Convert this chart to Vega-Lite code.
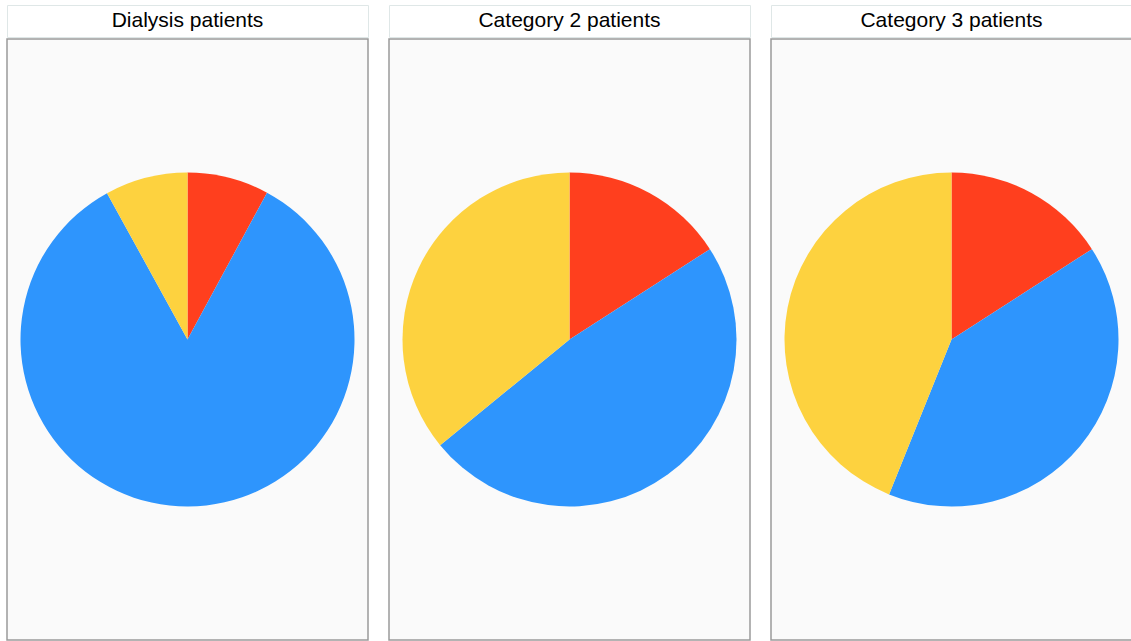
{
  "$schema": "https://vega.github.io/schema/vega-lite/v6.json",
  "padding": {"left": 6, "top": 4, "right": 0, "bottom": 0},
  "background": "white",
  "datasets": {
    "shares": [
      {"panel": "Dialysis patients", "group": "A", "ord": 1, "value": 7.9},
      {"panel": "Dialysis patients", "group": "B", "ord": 2, "value": 84.1},
      {"panel": "Dialysis patients", "group": "C", "ord": 3, "value": 8.0},
      {"panel": "Category 2 patients", "group": "A", "ord": 1, "value": 15.9},
      {"panel": "Category 2 patients", "group": "B", "ord": 2, "value": 48.2},
      {"panel": "Category 2 patients", "group": "C", "ord": 3, "value": 35.9},
      {"panel": "Category 3 patients", "group": "A", "ord": 1, "value": 15.9},
      {"panel": "Category 3 patients", "group": "B", "ord": 2, "value": 40.2},
      {"panel": "Category 3 patients", "group": "C", "ord": 3, "value": 43.9}
    ],
    "titles": [
      {"panel": "Dialysis patients"},
      {"panel": "Category 2 patients"},
      {"panel": "Category 3 patients"}
    ]
  },
  "config": {
    "concat": {"spacing": 19},
    "font": "Liberation Sans"
  },
  "hconcat": [
    {
      "vconcat": [
        {
          "width": 361, "height": 32,
          "data": {"name": "titles"},
          "transform": [{"filter": "datum.panel === 'Dialysis patients'"}],
          "view": {"stroke": "#dfe7e7", "fill": "white"},
          "mark": {"type": "text", "fontSize": 21, "color": "black", "font": "Liberation Sans", "baseline": "middle"},
          "encoding": {
            "x": {"field": "panel", "type": "nominal", "axis": null},
            "text": {"field": "panel"}
          }
        },
        {
          "width": 361, "height": 601,
          "data": {"name": "shares"},
          "transform": [{"filter": "datum.panel === 'Dialysis patients'"}],
          "view": {"stroke": "#9a9a9a", "strokeWidth": 1.5, "fill": "#fafafa"},
          "mark": {"type": "arc", "radius": 167},
          "encoding": {
            "theta": {"field": "value", "type": "quantitative", "stack": true},
            "order": {"field": "ord", "type": "quantitative"},
            "color": {"field": "group", "type": "nominal", "legend": null,
              "scale": {"domain": ["A", "B", "C"], "range": ["#ff3f1e", "#2e95fd", "#fdd23f"]}}
          }
        }
      ],
      "spacing": 0
    },
    {
      "vconcat": [
        {
          "width": 361, "height": 32,
          "data": {"name": "titles"},
          "transform": [{"filter": "datum.panel === 'Category 2 patients'"}],
          "view": {"stroke": "#dfe7e7", "fill": "white"},
          "mark": {"type": "text", "fontSize": 21, "color": "black", "font": "Liberation Sans", "baseline": "middle"},
          "encoding": {
            "x": {"field": "panel", "type": "nominal", "axis": null},
            "text": {"field": "panel"}
          }
        },
        {
          "width": 361, "height": 601,
          "data": {"name": "shares"},
          "transform": [{"filter": "datum.panel === 'Category 2 patients'"}],
          "view": {"stroke": "#9a9a9a", "strokeWidth": 1.5, "fill": "#fafafa"},
          "mark": {"type": "arc", "radius": 167},
          "encoding": {
            "theta": {"field": "value", "type": "quantitative", "stack": true},
            "order": {"field": "ord", "type": "quantitative"},
            "color": {"field": "group", "type": "nominal", "legend": null,
              "scale": {"domain": ["A", "B", "C"], "range": ["#ff3f1e", "#2e95fd", "#fdd23f"]}}
          }
        }
      ],
      "spacing": 0
    },
    {
      "vconcat": [
        {
          "width": 361, "height": 32,
          "data": {"name": "titles"},
          "transform": [{"filter": "datum.panel === 'Category 3 patients'"}],
          "view": {"stroke": "#dfe7e7", "fill": "white"},
          "mark": {"type": "text", "fontSize": 21, "color": "black", "font": "Liberation Sans", "baseline": "middle"},
          "encoding": {
            "x": {"field": "panel", "type": "nominal", "axis": null},
            "text": {"field": "panel"}
          }
        },
        {
          "width": 361, "height": 601,
          "data": {"name": "shares"},
          "transform": [{"filter": "datum.panel === 'Category 3 patients'"}],
          "view": {"stroke": "#9a9a9a", "strokeWidth": 1.5, "fill": "#fafafa"},
          "mark": {"type": "arc", "radius": 167},
          "encoding": {
            "theta": {"field": "value", "type": "quantitative", "stack": true},
            "order": {"field": "ord", "type": "quantitative"},
            "color": {"field": "group", "type": "nominal", "legend": null,
              "scale": {"domain": ["A", "B", "C"], "range": ["#ff3f1e", "#2e95fd", "#fdd23f"]}}
          }
        }
      ],
      "spacing": 0
    }
  ]
}
